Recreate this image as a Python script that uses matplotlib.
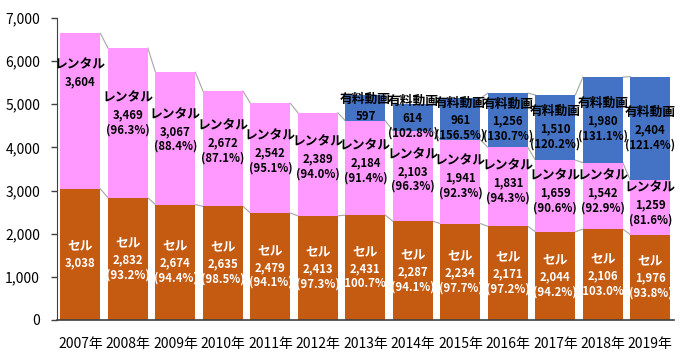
import matplotlib
matplotlib.use("Agg")
import matplotlib.pyplot as plt
import numpy as np

plt.rcParams['font.family'] = ['Noto Sans CJK JP', 'DejaVu Sans']

years = ["2007年", "2008年", "2009年", "2010年", "2011年", "2012年", "2013年",
         "2014年", "2015年", "2016年", "2017年", "2018年", "2019年"]
sell = [3038, 2832, 2674, 2635, 2479, 2413, 2431, 2287, 2234, 2171, 2044, 2106, 1976]
sell_pct = [None, 93.2, 94.4, 98.5, 94.1, 97.3, 100.7, 94.1, 97.7, 97.2, 94.2, 103.0, 93.8]
rental = [3604, 3469, 3067, 2672, 2542, 2389, 2184, 2103, 1941, 1831, 1659, 1542, 1259]
rental_pct = [None, 96.3, 88.4, 87.1, 95.1, 94.0, 91.4, 96.3, 92.3, 94.3, 90.6, 92.9, 81.6]
paid = [0, 0, 0, 0, 0, 0, 597, 614, 961, 1256, 1510, 1980, 2404]
paid_pct = [None, None, None, None, None, None, None, 102.8, 156.5, 130.7, 120.2, 131.1, 121.4]
yticks = [0, 1000, 2000, 3000, 4000, 5000, 6000, 7000]

C_SELL = "#C55A11"
C_RENT = "#FF99FF"
C_PAID = "#4472C4"

fig = plt.figure(figsize=(7.0, 3.52), dpi=100)
ax = fig.add_axes([0.081, 0.091, 0.882, 0.858])

x = np.arange(len(years))
w = 0.84
sell_a = np.array(sell, float)
rent_a = np.array(rental, float)
paid_a = np.array(paid, float)

ax.bar(x, sell_a, w, color=C_SELL, zorder=2)
ax.bar(x, rent_a, w, bottom=sell_a, color=C_RENT, zorder=2)
ax.bar(x, paid_a, w, bottom=sell_a + rent_a, color=C_PAID, zorder=2)

# series lines
def series_lines(tops, mask=None):
    for i in range(len(tops) - 1):
        if mask is not None and not (mask[i] and mask[i + 1]):
            continue
        ax.plot([x[i] + w / 2, x[i + 1] - w / 2], [tops[i], tops[i + 1]],
                color="#A6A6A6", lw=0.8, zorder=1)

series_lines(sell_a)
series_lines(sell_a + rent_a)
series_lines(sell_a + rent_a + paid_a, mask=paid_a > 0)

PX = 0.72  # points per pixel at dpi 100

def label_block(xi, yc, word, value, pct, color):
    lines = [(word, 9.2), (f"{int(value):,}", 8.2)]
    if pct is not None:
        lines.append((f"({pct:.1f}%)", 8.2))
    offs = [0, 17, 32][:len(lines)]
    mid = (offs[0] + offs[-1]) / 2
    for (txt, fsz), o in zip(lines, offs):
        ax.annotate(txt, (xi, yc), xytext=(0, -(o - mid) * PX), textcoords="offset points",
                    ha="center", va="center", color=color, fontsize=fsz,
                    fontweight="bold", zorder=3, annotation_clip=False)

for i in range(len(x)):
    label_block(x[i], sell[i] * 0.5, "セル", sell[i], sell_pct[i], "white")
    frac = 0.74 if i == 0 else 0.56
    label_block(x[i], sell[i] + rental[i] * frac, "レンタル", rental[i], rental_pct[i], "black")
    if paid[i] > 0:
        label_block(x[i], sell[i] + rental[i] + paid[i] * 0.5, "有料動画", paid[i],
                    paid_pct[i], "black")

ax.set_xlim(-0.5, len(x) - 0.5)
ax.set_ylim(0, 7000)
ax.set_yticks(yticks)
ax.set_yticklabels([f"{v:,}" for v in yticks], fontsize=10)
ax.set_xticks(x)
ax.set_xticklabels(years, fontsize=10)
ax.tick_params(axis="x", length=0, pad=12)
ax.tick_params(axis="y", length=4, width=1, color="#404040", pad=8)
for s in ["top", "right"]:
    ax.spines[s].set_visible(False)
ax.spines["left"].set_color("#404040")
ax.spines["bottom"].set_color("#404040")
ax.spines["bottom"].set_linewidth(1.2)

fig.savefig("out.png", dpi=100)
